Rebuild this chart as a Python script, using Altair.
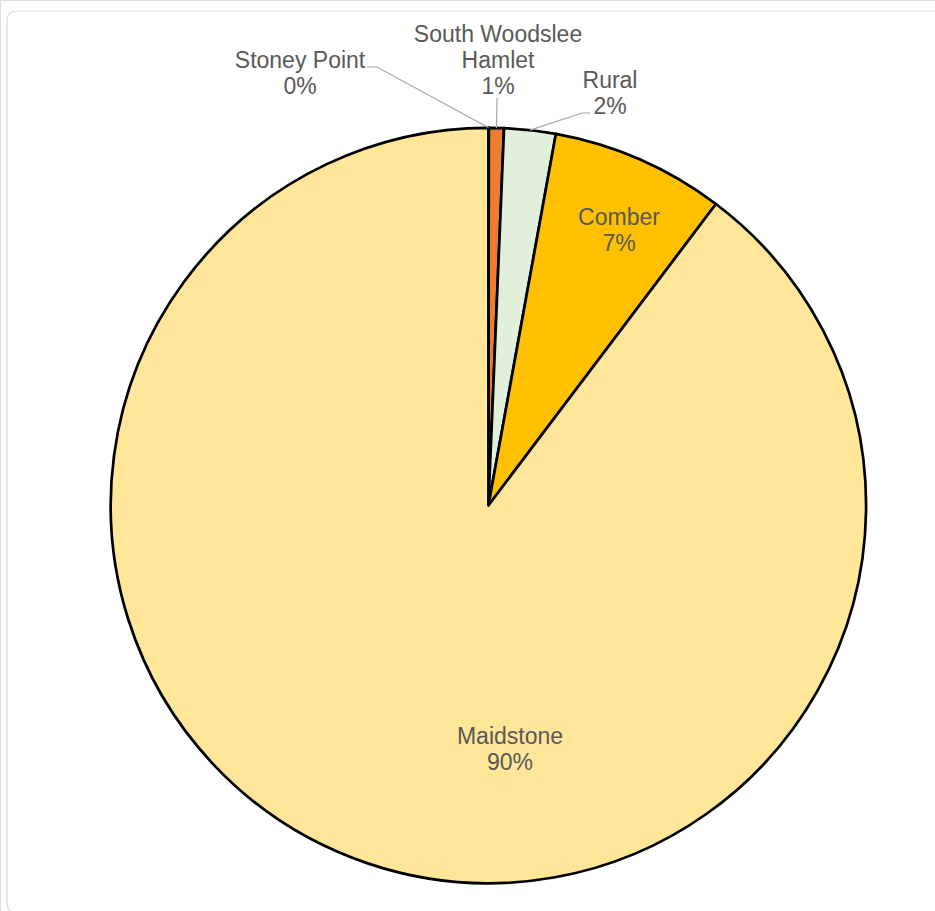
import math
import altair as alt
import pandas as pd

# ---- data ----
categories = ["Stoney Point", "South Woodslee Hamlet", "Rural", "Comber", "Maidstone"]
values = [0.02, 0.64, 2.20, 7.43, 89.71]
colors = ["#A5A5A5", "#ED7D31", "#E2EFDA", "#FFC000", "#FFE699"]
display_names = ["Stoney Point", "South Woodslee\nHamlet", "Rural", "Comber", "Maidstone"]

# ---- layout (pixels): position of the first line of each label ----
CX, CY, R = 488.4, 505.5, 377.7
label_pos = {
    "Stoney Point": (300, 60.5),
    "South Woodslee Hamlet": (498, 34.5),
    "Rural": (610, 80.5),
    "Comber": (619, 217.5),
    "Maidstone": (510, 737),
}
# leader line elbow / end points for the outside labels
leaders = {
    "Stoney Point": [(377, 67), (367, 67)],
    "South Woodslee Hamlet": [(497, 98)],
    "Rural": [(582, 113), (590, 113)],
}
FONT = "Liberation Sans"
TEXT_COLOR = "#595959"

total = sum(values)
df = pd.DataFrame({
    "category": categories,
    "value": values,
    "order": list(range(len(categories))),
})

# labels
lab_rows = []
for name, disp, v in zip(categories, display_names, values):
    pct = round(v / total * 100)
    x, y = label_pos[name]
    lab_rows.append({"category": name, "label": f"{disp}\n{pct}%", "x": x, "y": y})
labels_df = pd.DataFrame(lab_rows)

# leader lines start on the rim at each slice's mid angle
line_rows = []
cum = 0.0
for name, v in zip(categories, values):
    mid = (cum + v / 2) / total * 2 * math.pi
    cum += v
    if name in leaders:
        pts = [(CX + R * math.sin(mid), CY - R * math.cos(mid))] + leaders[name]
        for i, (px, py) in enumerate(pts):
            line_rows.append({"category": name, "i": i, "x": px, "y": py})
lines_df = pd.DataFrame(line_rows)

frame = alt.Chart(pd.DataFrame({"a": [0]})).mark_rect(
    fill="white", stroke="#D9D9D9", strokeWidth=1.2, cornerRadius=9
).encode(
    x=alt.value(7), x2=alt.value(955), y=alt.value(11), y2=alt.value(913)
)

pie = alt.Chart(df).mark_arc(
    radius=R, stroke="black", strokeWidth=2.7, strokeJoin="round"
).encode(
    theta=alt.Theta("value:Q", stack=True),
    order=alt.Order("order:Q"),
    color=alt.Color("category:N", scale=alt.Scale(domain=categories, range=colors), legend=None),
    x=alt.value(CX),
    y=alt.value(CY),
)

leader_lines = alt.Chart(lines_df).mark_line(
    color="#A6A6A6", strokeWidth=1.2
).encode(
    x=alt.X("x:Q", scale=None, axis=None),
    y=alt.Y("y:Q", scale=None, axis=None),
    detail="category:N",
    order="i:Q",
)

texts = alt.Chart(labels_df).mark_text(
    font=FONT, fontSize=23, color=TEXT_COLOR, lineBreak="\n", lineHeight=26,
    align="center", baseline="middle"
).encode(
    x=alt.X("x:Q", scale=None, axis=None),
    y=alt.Y("y:Q", scale=None, axis=None),
    text="label:N",
)

chart = alt.layer(frame, pie, leader_lines, texts).properties(
    width=935, height=911, padding=0, autosize=alt.AutoSizeParams(type="none")
).configure_view(stroke=None).configure(background="white")

chart.save("out.html", embed_options={"renderer": "svg", "actions": False})
